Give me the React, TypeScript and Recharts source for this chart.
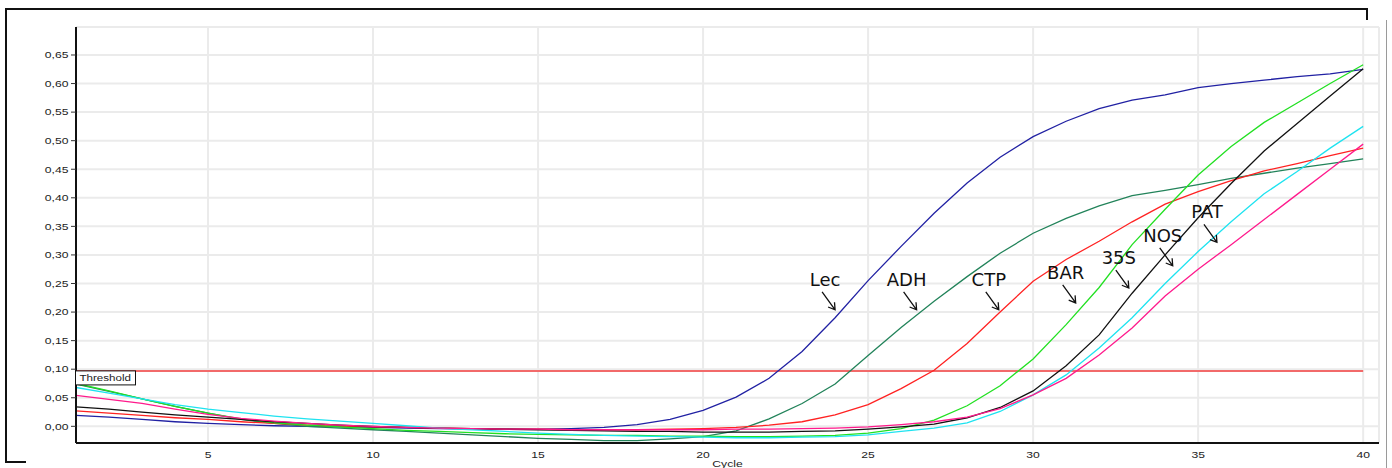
import type { ReactElement } from "react";
import {
  LineChart,
  Line,
  XAxis,
  YAxis,
  CartesianGrid,
  ReferenceLine,
  ReferenceDot,
} from "recharts";

// qPCR amplification curves, cycles 1..40
const cycles = Array.from({ length: 40 }, (_, i) => i + 1);

const lec = [
  0.019, 0.016, 0.012, 0.008, 0.005, 0.003, 0.001, 0.0, -0.001, -0.002,
  -0.003, -0.004, -0.005, -0.005, -0.005, -0.004, -0.002, 0.003, 0.012, 0.028,
  0.051, 0.084, 0.131, 0.19, 0.255, 0.315, 0.373, 0.426, 0.471, 0.507,
  0.534, 0.556, 0.571, 0.58, 0.593, 0.6, 0.606, 0.612, 0.617, 0.625,
];
const adh = [
  0.074, 0.061, 0.048, 0.035, 0.023, 0.012, 0.005, 0.0, -0.003, -0.006,
  -0.009, -0.012, -0.015, -0.018, -0.021, -0.023, -0.025, -0.025, -0.022, -0.018,
  -0.008, 0.013, 0.04, 0.074, 0.124, 0.173, 0.219, 0.262, 0.303, 0.338,
  0.364, 0.386, 0.404, 0.413, 0.423, 0.434, 0.443, 0.452, 0.46, 0.468,
];
const ctp = [
  0.027, 0.023, 0.019, 0.015, 0.012, 0.008, 0.005, 0.002, 0.0, -0.001,
  -0.002, -0.003, -0.004, -0.005, -0.005, -0.006, -0.006, -0.006, -0.005, -0.004,
  -0.002, 0.002, 0.008, 0.02, 0.038, 0.066, 0.098, 0.145, 0.2, 0.254,
  0.292, 0.324, 0.358, 0.389, 0.411, 0.43, 0.447, 0.46, 0.474, 0.487,
];
const bar = [
  0.075, 0.062, 0.048, 0.035, 0.023, 0.013, 0.006, 0.002, -0.001, -0.004,
  -0.007, -0.009, -0.011, -0.013, -0.014, -0.015, -0.016, -0.016, -0.017, -0.017,
  -0.018, -0.018, -0.017, -0.016, -0.012, -0.004, 0.011, 0.036, 0.071, 0.118,
  0.178, 0.243, 0.318, 0.38, 0.44, 0.49, 0.532, 0.566, 0.6, 0.633,
];
const s35 = [
  0.034, 0.03, 0.025, 0.02, 0.016, 0.012, 0.008, 0.005, 0.002, 0.0,
  -0.002, -0.003, -0.004, -0.005, -0.006, -0.007, -0.008, -0.009, -0.009, -0.01,
  -0.01, -0.01, -0.009, -0.008, -0.005, -0.001, 0.004, 0.015, 0.033, 0.062,
  0.106, 0.16, 0.233, 0.3, 0.365, 0.425, 0.482, 0.53, 0.578, 0.626,
];
const nos = [
  0.068, 0.058, 0.048, 0.038, 0.03, 0.024, 0.018, 0.013, 0.009, 0.005,
  0.001, -0.003, -0.006, -0.009, -0.012, -0.014, -0.016, -0.017, -0.018, -0.019,
  -0.02, -0.02, -0.019, -0.018, -0.015, -0.009, -0.003, 0.006, 0.026, 0.055,
  0.09, 0.137, 0.19, 0.25, 0.306, 0.358, 0.407, 0.446, 0.487, 0.525,
];
const pat = [
  0.054, 0.047, 0.04, 0.03, 0.021, 0.014, 0.009, 0.005, 0.002, 0.0,
  -0.002, -0.003, -0.004, -0.005, -0.005, -0.006, -0.006, -0.006, -0.006, -0.006,
  -0.005, -0.005, -0.004, -0.003, -0.001, 0.003, 0.008, 0.016, 0.031, 0.055,
  0.084, 0.125, 0.172, 0.228, 0.275, 0.318, 0.362, 0.406, 0.45, 0.494,
];

const seriesNames = ["Lec", "ADH", "CTP", "BAR", "35S", "NOS", "PAT"];
const seriesValues = [lec, adh, ctp, bar, s35, nos, pat];
const seriesColors = ["#2121a3", "#22835a", "#ff2222", "#22e022", "#111111", "#1ee3f0", "#ff1a8c"];

// callout arrow tips (cycle, fluorescence)
const calloutCycles = [24.0, 26.47, 28.96, 31.29, 32.9, 34.23, 35.57];
const calloutValues = [0.204, 0.204, 0.204, 0.216, 0.242, 0.281, 0.322];

const threshold = 0.097;
const xTicks = [5, 10, 15, 20, 25, 30, 35, 40];
const yTicks = [0, 0.05, 0.1, 0.15, 0.2, 0.25, 0.3, 0.35, 0.4, 0.45, 0.5, 0.55, 0.6, 0.65];

const data = cycles.map((cycle, i) => {
  const row: Record<string, number> = { cycle };
  seriesNames.forEach((name, k) => {
    row[name] = seriesValues[k][i];
  });
  return row;
});

const tickFont = "'Liberation Sans', Arial, sans-serif";
const fmt = (v: number) => v.toFixed(2).replace(".", ",");

function YTick(props: any): ReactElement {
  const { x, y, payload } = props;
  return (
    <g transform={`translate(${x},${y})`}>
      <text transform="scale(1.35,1)" textAnchor="end" dy={3.3} fontSize={9} fontFamily={tickFont} fill="#222">
        {fmt(payload.value)}
      </text>
    </g>
  );
}

function XTick(props: any): ReactElement {
  const { x, y, payload } = props;
  return (
    <g transform={`translate(${x},${y})`}>
      <text transform="scale(1.35,1)" textAnchor="middle" dy={15.2} fontSize={9} fontFamily={tickFont} fill="#222">
        {payload.value}
      </text>
    </g>
  );
}

function Callout({ cx, cy, text }: { cx: number; cy: number; text: string }): ReactElement {
  return (
    <g>
      <text x={cx - 10} y={cy - 24} textAnchor="middle" fontSize={18} fontFamily="'DejaVu Sans', sans-serif" fill="#111">
        {text}
      </text>
      <path
        d={`M${cx - 13},${cy - 18} L${cx},${cy} M${cx - 7},${cy - 2.8} L${cx},${cy} L${cx - 0.6},${cy - 7.5}`}
        stroke="#111"
        strokeWidth={1.3}
        fill="none"
      />
    </g>
  );
}

function ThresholdTag({ cx, cy }: { cx: number; cy: number }): ReactElement {
  return (
    <g>
      <rect x={cx - 0.5} y={cy} width={60} height={14} fill="#fff" stroke="#111" strokeWidth={1} />
      <text transform={`translate(${cx + 3.5},${cy + 10.5}) scale(1.22,1)`} fontSize={9.5} fontFamily={tickFont} fill="#222">
        Threshold
      </text>
    </g>
  );
}

const line = (style: React.CSSProperties) => <div style={{ position: "absolute", ...style }} />;

export default function App(): ReactElement {
  return (
    <div style={{ position: "absolute", left: 0, top: 0, width: 1392, height: 468, background: "#fff", overflow: "hidden" }}>
      <LineChart width={1392} height={468} data={data} margin={{ top: 27, right: 13, bottom: 0, left: 0 }}>
        <CartesianGrid stroke="#ebebeb" strokeWidth={2} />
        <XAxis
          dataKey="cycle"
          type="number"
          domain={[1, 40.48]}
          ticks={xTicks}
          allowDataOverflow
          height={25}
          tickLine={false}
          tickSize={0}
          tickMargin={0}
          tick={<XTick />}
          axisLine={{ stroke: "#111", strokeWidth: 2 }}
          label={{
            content: (p: any) => (
              <text
                transform={`translate(${p.viewBox.x + p.viewBox.width / 2},${466.5}) scale(1.35,1)`}
                textAnchor="middle"
                fontSize={9}
                fontFamily={tickFont}
                fill="#222"
              >
                Cycle
              </text>
            ),
          }}
        />
        <XAxis xAxisId="top" orientation="top" type="number" domain={[1, 40.48]} height={0} tick={false} tickLine={false} axisLine={{ stroke: "#222", strokeWidth: 1.3 }} />
        <YAxis
          type="number"
          domain={[-0.0292, 0.699]}
          ticks={yTicks}
          allowDataOverflow
          width={76}
          tickSize={5}
          tickMargin={2.5}
          tickLine={{ stroke: "#333" }}
          tick={<YTick />}
          axisLine={{ stroke: "#111", strokeWidth: 2 }}
        />
        <YAxis yAxisId="right" orientation="right" type="number" domain={[-0.0292, 0.699]} width={0} tick={false} tickLine={false} axisLine={{ stroke: "#333", strokeWidth: 2 }} />
        <ReferenceLine
          segment={[
            { x: 1, y: threshold },
            { x: 40, y: threshold },
          ]}
          stroke="#f26a6a"
          strokeWidth={2}
          ifOverflow="visible"
        />
        {seriesNames.map((name, k) => (
          <Line
            key={name}
            type="linear"
            dataKey={name}
            stroke={seriesColors[k]}
            strokeWidth={1.3}
            dot={false}
            activeDot={false}
            isAnimationActive={false}
          />
        ))}
        <ReferenceDot
          x={1}
          y={threshold}
          r={0}
          ifOverflow="visible"
          shape={(p: any) => <ThresholdTag cx={p.cx} cy={p.cy} />}
        />
        {seriesNames.map((name, k) => (
          <ReferenceDot
            key={`c-${name}`}
            x={calloutCycles[k]}
            y={calloutValues[k]}
            r={0}
            ifOverflow="visible"
            shape={(p: any) => <Callout cx={p.cx} cy={p.cy} text={name} />}
          />
        ))}
      </LineChart>
      {line({ left: 5, top: 8, width: 1363, height: 2, background: "#111" })}
      {line({ left: 1366, top: 8, width: 2, height: 12, background: "#111" })}
      {line({ left: 5, top: 8, width: 2, height: 455, background: "#111" })}
      {line({ left: 5, top: 461, width: 21, height: 2, background: "#111" })}
      {line({ left: 1386, top: 20, width: 1, height: 448, background: "#9a9a9a" })}
    </div>
  );
}
